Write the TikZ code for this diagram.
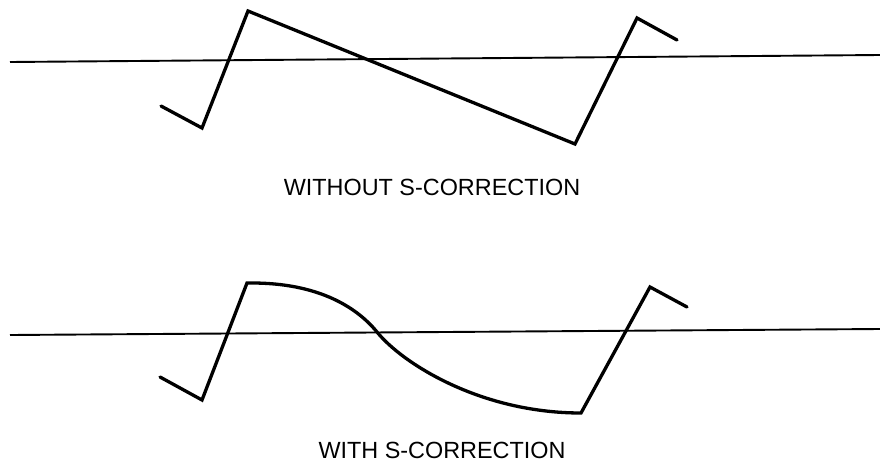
\documentclass[tikz,border=0pt]{standalone}
\usepackage{fontspec}
\setmainfont{Liberation Sans}
\begin{document}
\begin{tikzpicture}[x=1pt,y=-1pt,
  axis/.style={line width=1.9pt},
  wave/.style={line width=3.3pt,line join=miter,line cap=round},
  caption/.style={font=\fontsize{23.4}{26}\selectfont,inner sep=0pt,anchor=center}]
\useasboundingbox (0,0) rectangle (880,463);
% top
\coordinate (ta) at (10,62);
\coordinate (tb) at (880,55);
\draw[axis] (ta) -- (tb);
\coordinate (t1) at (161,106);
\coordinate (t2) at (202,128);
\coordinate (t3) at (248,11);
\coordinate (t4) at (575,144);
\coordinate (t5) at (637,18);
\coordinate (t6) at (677,40);
\draw[wave] (t1) -- (t2) -- (t3) -- (t4) -- (t5) -- (t6);
\node[caption] (cap1) at (432,187) {WITHOUT S-CORRECTION};
% bottom
\coordinate (ba) at (10,335);
\coordinate (bb) at (880,329);
\draw[axis] (ba) -- (bb);
\coordinate (b1) at (160,377);
\coordinate (b2) at (202,400);
\coordinate (b3) at (247,283);
\coordinate (b3a) at (252,283);
\coordinate (bm) at (377,332);
\coordinate (b4) at (581,413);
\coordinate (b5) at (650,287);
\coordinate (b6) at (687,307);
\draw[wave] (b1) -- (b2) -- (b3) -- (b3a)
  .. controls (315,283) and (355,305) .. (bm)
  .. controls (402,363) and (480,413) .. (b4) -- (b5) -- (b6);
\node[caption] (cap2) at (442,450) {WITH S-CORRECTION};
\end{tikzpicture}
\end{document}
